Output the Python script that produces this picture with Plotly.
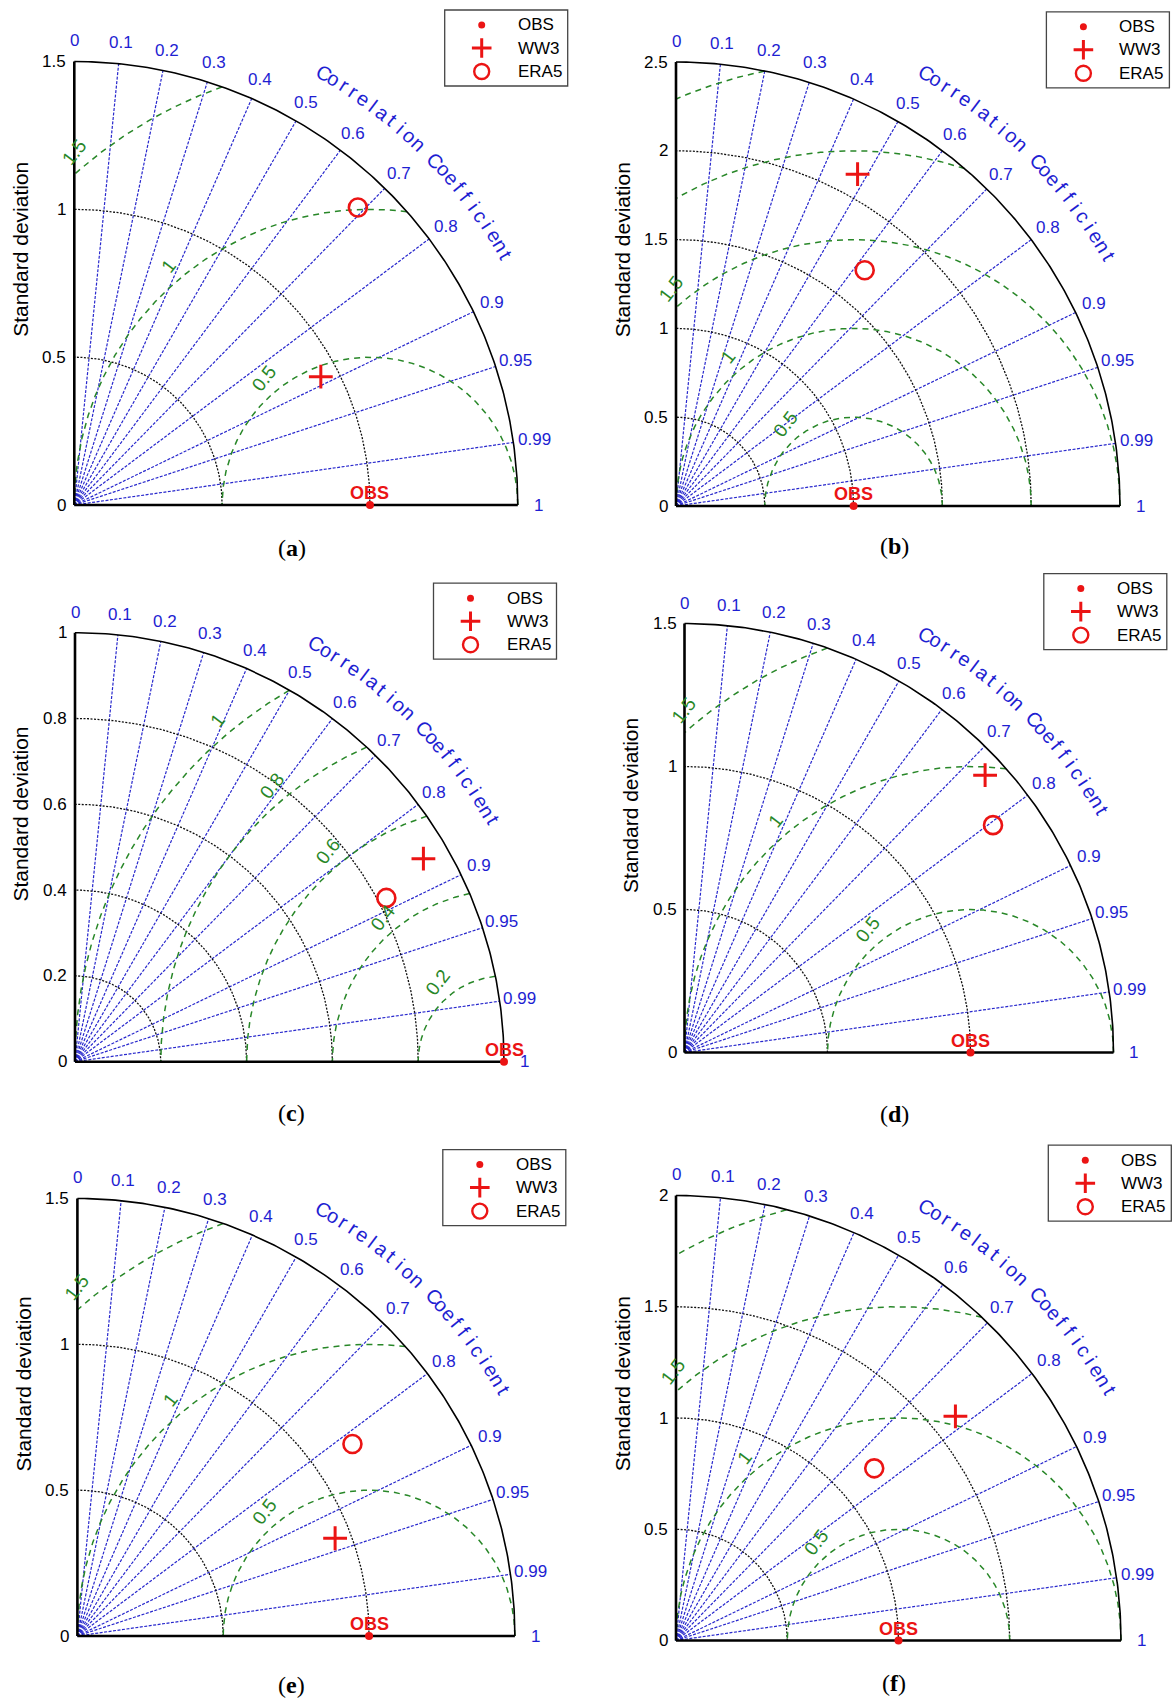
import numpy as np
import plotly.graph_objects as go

W, H = 1172, 1701

# ---------------- data ----------------
PANEL_TAGS = ["a", "b", "c", "d", "e", "f"]
SERIES_NAMES = ["OBS", "WW3", "ERA5"]
STD_MAX = [1.5, 2.5, 1.0, 1.5, 1.5, 2.0]
STD_TICKS = [
    [0, 0.5, 1, 1.5],
    [0, 0.5, 1, 1.5, 2, 2.5],
    [0, 0.2, 0.4, 0.6, 0.8, 1],
    [0, 0.5, 1, 1.5],
    [0, 0.5, 1, 1.5],
    [0, 0.5, 1, 1.5, 2],
]
STD_ARCS = [
    [0.5, 1.0],
    [0.5, 1.0, 1.5, 2.0],
    [0.2, 0.4, 0.6, 0.8],
    [0.5, 1.0],
    [0.5, 1.0],
    [0.5, 1.0, 1.5],
]
RMS_LEVELS = [
    [0.5, 1.0, 1.5],
    [0.5, 1.0, 1.5, 2.0, 2.5],
    [0.2, 0.4, 0.6, 0.8, 1.0],
    [0.5, 1.0, 1.5],
    [0.5, 1.0, 1.5],
    [0.5, 1.0, 1.5, 2.0],
]
OBS_STD = [1.0, 1.0, 1.0, 1.0, 1.0, 1.0]
WW3_STD = [0.94, 2.13, 0.94, 1.43, 0.945, 1.61]
WW3_CORR = [0.887, 0.48, 0.864, 0.735, 0.935, 0.78]
ERA5_STD = [1.39, 1.70, 0.82, 1.34, 1.15, 1.18]
ERA5_CORR = [0.69, 0.625, 0.885, 0.805, 0.82, 0.755]
CORR_TICKS = [0, 0.1, 0.2, 0.3, 0.4, 0.5, 0.6, 0.7, 0.8, 0.9, 0.95, 0.99, 1]
CORR_TITLE = "Correlation Coefficient"
STD_TITLE = "Standard deviation"

# ---------------- layout (pixels) ----------------
ORIGIN_PX = [(74.3, 505), (676, 506), (75, 1061.7), (684.5, 1052.5), (77.4, 1636), (676, 1640.5)]
RADIUS_PX = [443.5, 444, 429, 429, 437.5, 445]
LEGEND_PX = [(444.7, 10), (1046.4, 11.8), (433.5, 583.2), (1043.8, 573.6), (442.8, 1149.6), (1048.3, 1145.2)]
TAG_PX = [(291.5, 548), (894.3, 546.4), (291.5, 1113), (894.3, 1113.6), (291.5, 1685), (894.3, 1683)]

FONT = "Liberation Sans, Arial, sans-serif"
SERIF = "Liberation Serif, DejaVu Serif, serif"
BLUE = "rgb(30,30,210)"
BLUE_LINE = "rgb(40,40,205)"
GREEN = "rgb(40,135,40)"
RED = "rgb(235,20,20)"


def fmt(v):
    return "%g" % v


fig = go.Figure()
annotations = []
shapes = []
axes = {}

for i in range(6):
    smax = STD_MAX[i]
    sobs = OBS_STD[i]
    ox, oy = ORIGIN_PX[i]
    R = RADIUS_PX[i]
    s = R / smax
    px0 = max(0.0, ox - 75)
    px1 = min(float(W), ox + R + 120)
    py_top = max(0.0, oy - R - 62)
    py_bot = min(float(H), oy + 30)
    suffix = "" if i == 0 else str(i + 1)
    xa, ya = "x" + suffix, "y" + suffix
    axes["xaxis" + suffix] = dict(domain=[px0 / W, px1 / W], range=[(px0 - ox) / s, (px1 - ox) / s],
                                  visible=False, fixedrange=True, anchor=ya)
    axes["yaxis" + suffix] = dict(domain=[1 - py_bot / H, 1 - py_top / H], range=[(oy - py_bot) / s, (oy - py_top) / s],
                                  visible=False, fixedrange=True, anchor=xa)

    common = dict(xaxis=xa, yaxis=ya, showlegend=False, hoverinfo="skip")

    # correlation rays
    lx, ly = [], []
    for c in CORR_TICKS:
        if 0 < c < 1:
            a = np.arccos(c)
            lx += [0, smax * np.cos(a), None]
            ly += [0, smax * np.sin(a), None]
    fig.add_trace(go.Scatter(x=lx, y=ly, mode="lines", line=dict(color=BLUE_LINE, width=1.2, dash="3px,1.5px"), **common))

    # std arcs
    th = np.linspace(0, np.pi / 2, 200)
    ax_, ay_ = [], []
    for r in STD_ARCS[i]:
        ax_ += list(r * np.cos(th)) + [None]
        ay_ += list(r * np.sin(th)) + [None]
    fig.add_trace(go.Scatter(x=ax_, y=ay_, mode="lines", line=dict(color="rgb(15,15,15)", width=1.3, dash="2px,1.5px"), **common))

    # RMS arcs
    t = np.linspace(0, np.pi, 1500)
    gx, gy = [], []
    for r in RMS_LEVELS[i]:
        xs = sobs + r * np.cos(t)
        ys = r * np.sin(t)
        ok = (xs >= 0) & (xs ** 2 + ys ** 2 <= smax ** 2 * 1.0001)
        for xv, yv, k in zip(xs, ys, ok):
            if k:
                gx.append(float(xv)); gy.append(float(yv))
            elif gx and gx[-1] is not None:
                gx.append(None); gy.append(None)
        gx.append(None); gy.append(None)
    fig.add_trace(go.Scatter(x=gx, y=gy, mode="lines", line=dict(color=GREEN, width=1.5, dash="6px,5px"), **common))

    # frame
    fig.add_trace(go.Scatter(x=list(smax * np.cos(th)), y=list(smax * np.sin(th)), mode="lines",
                             line=dict(color="black", width=1.6), **common))
    fig.add_trace(go.Scatter(x=[0, smax, None, 0, 0], y=[0, 0, None, 0, smax], mode="lines",
                             line=dict(color="black", width=2.6), **common))

    # points
    fig.add_trace(go.Scatter(x=[sobs], y=[0], mode="markers", name="OBS",
                             marker=dict(color=RED, size=8), cliponaxis=False, xaxis=xa, yaxis=ya, showlegend=False))
    wa = np.arccos(WW3_CORR[i])
    fig.add_trace(go.Scatter(x=[WW3_STD[i] * np.cos(wa)], y=[WW3_STD[i] * np.sin(wa)], mode="markers", name="WW3",
                             marker=dict(symbol="cross-thin", color=RED, size=17, line=dict(color=RED, width=3)),
                             xaxis=xa, yaxis=ya, showlegend=False))
    ea = np.arccos(ERA5_CORR[i])
    fig.add_trace(go.Scatter(x=[ERA5_STD[i] * np.cos(ea)], y=[ERA5_STD[i] * np.sin(ea)], mode="markers", name="ERA5",
                             marker=dict(symbol="circle-open", color=RED, size=18, line=dict(color=RED, width=2.6)),
                             xaxis=xa, yaxis=ya, showlegend=False))

    # correlation tick labels
    for c in CORR_TICKS:
        a = np.arccos(c)
        rr = 1.047 * smax
        annotations.append(dict(x=rr * np.cos(a), y=rr * np.sin(a), xref=xa, yref=ya, text=fmt(c), showarrow=False,
                                xanchor="center", yanchor="middle", font=dict(family=FONT, size=17, color=BLUE)))
    # curved title
    n = len(CORR_TITLE)
    for k, ch in enumerate(CORR_TITLE):
        if ch == " ":
            continue
        deg = 60 - k * (30.0 / (n - 1))
        rr = 1.125 * smax
        annotations.append(dict(x=rr * np.cos(np.radians(deg)), y=rr * np.sin(np.radians(deg)), xref=xa, yref=ya,
                                text=ch, showarrow=False, textangle=90 - deg, xanchor="center", yanchor="middle",
                                font=dict(family=FONT, size=20, color=BLUE)))
    # std tick labels
    for v in STD_TICKS[i]:
        annotations.append(dict(x=0, y=v, xref=xa, yref=ya, text=fmt(v), showarrow=False, xanchor="right",
                                yanchor="middle", xshift=-6, font=dict(family=FONT, size=17, color="black")))
    annotations.append(dict(x=0, y=0.576 * smax, xref=xa, yref=ya, text=STD_TITLE, showarrow=False, textangle=-90,
                            xanchor="center", yanchor="middle", xshift=-54, font=dict(family=FONT, size=21, color="black")))
    # RMS labels
    ang = np.radians(130)
    for r in RMS_LEVELS[i]:
        lxv = sobs + r * np.cos(ang)
        lyv = r * np.sin(ang)
        if lxv > 0 and lxv ** 2 + lyv ** 2 < smax ** 2:
            annotations.append(dict(x=lxv, y=lyv, xref=xa, yref=ya, text=fmt(r), showarrow=False, textangle=-52,
                                    xanchor="center", yanchor="middle", xshift=17 * np.cos(ang), yshift=17 * np.sin(ang),
                                    font=dict(family=FONT, size=19, color=GREEN)))
    # OBS label
    annotations.append(dict(x=sobs, y=0, xref=xa, yref=ya, text="<b>OBS</b>", showarrow=False, xanchor="center",
                            yanchor="middle", yshift=12, font=dict(family=FONT, size=18, color=RED)))
    # panel tag
    tx, ty = TAG_PX[i]
    annotations.append(dict(x=tx / W, y=1 - ty / H, xref="paper", yref="paper", text="(<b>%s</b>)" % PANEL_TAGS[i],
                            showarrow=False, xanchor="center", yanchor="middle",
                            font=dict(family=SERIF, size=24, color="black")))
    # legend box
    lgx, lgy = LEGEND_PX[i]
    shapes.append(dict(type="rect", xref="paper", yref="paper", x0=lgx / W, x1=(lgx + 123) / W,
                       y0=1 - (lgy + 76) / H, y1=1 - lgy / H, line=dict(color="rgb(70,70,70)", width=1.3),
                       fillcolor="white", layer="below"))
    rows = [15, 38, 61.5]
    for name, dy in zip(SERIES_NAMES, rows):
        annotations.append(dict(x=(lgx + 71) / W, y=1 - (lgy + dy) / H, xref="paper", yref="paper", text=name,
                                showarrow=False, xanchor="left", yanchor="middle",
                                font=dict(family=FONT, size=17, color="black")))
    fig.add_trace(go.Scatter(x=[lgx + 37], y=[lgy + rows[0]], mode="markers", marker=dict(color=RED, size=7),
                             xaxis="x7", yaxis="y7", showlegend=False, hoverinfo="skip"))
    fig.add_trace(go.Scatter(x=[lgx + 37], y=[lgy + rows[1]], mode="markers",
                             marker=dict(symbol="cross-thin", color=RED, size=14, line=dict(color=RED, width=3)),
                             xaxis="x7", yaxis="y7", showlegend=False, hoverinfo="skip"))
    fig.add_trace(go.Scatter(x=[lgx + 37], y=[lgy + rows[2]], mode="markers",
                             marker=dict(symbol="circle-open", color=RED, size=15, line=dict(color=RED, width=2.4)),
                             xaxis="x7", yaxis="y7", showlegend=False, hoverinfo="skip"))

axes["xaxis7"] = dict(domain=[0, 1], range=[0, W], visible=False, fixedrange=True, anchor="y7")
axes["yaxis7"] = dict(domain=[0, 1], range=[H, 0], visible=False, fixedrange=True, anchor="x7")

fig.update_layout(width=W, height=H, margin=dict(l=0, r=0, t=0, b=0, pad=0), paper_bgcolor="white",
                  plot_bgcolor="rgba(0,0,0,0)", showlegend=False, annotations=annotations, shapes=shapes, **axes)

fig.write_html("out.html", config={"displayModeBar": False, "staticPlot": True},
               post_script="document.body.style.margin='0';")
